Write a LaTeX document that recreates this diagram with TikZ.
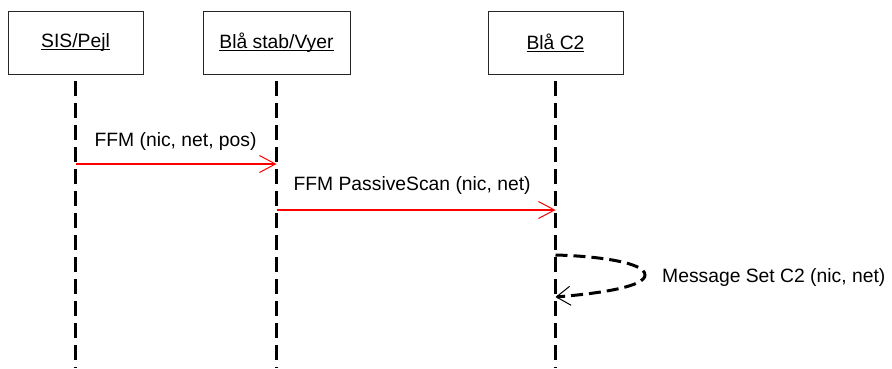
\documentclass[tikz,border=0pt]{standalone}
\usepackage{fontspec}
\setmainfont{Liberation Sans}
\usetikzlibrary{arrows.meta,positioning}
\newcommand{\actorname}[1]{\setbox0\hbox{#1}\rlap{\rule[-2.5pt]{\wd0}{1pt}}\box0}

\begin{document}
\begin{tikzpicture}[
  x=1pt, y=-1pt, font=\fontsize{19.3}{23}\selectfont,
  actor/.style={draw=black!85, line width=0.9pt, minimum height=63pt,
                inner sep=2pt},
  life/.style={line width=3pt, dash pattern=on 15pt off 7pt},
  msg/.style={draw=red, line width=2.2pt,
              -{Straight Barb[length=16pt, width=17pt, line width=1pt]}},
  selfmsg/.style={line width=3pt, dash pattern=on 12pt off 6pt,
              -{Straight Barb[length=14pt, width=19pt, line width=1pt]}},
  lbl/.style={anchor=base west, inner sep=0pt}
]
  \useasboundingbox (0,0) rectangle (892,368);
  % actors
  \node[actor, minimum width=135pt] (sis)  at (75.5,42.5)  {\actorname{SIS/Pejl}};
  \node[actor, minimum width=147pt] (stab) at (276.5,42.5) {\actorname{Blå stab/Vyer}};
  \node[actor, minimum width=135pt] (c2)   at (555.5,42.5) {\actorname{Blå C2}};
  % lifelines
  \coordinate (bottom) at (0,368);
  \draw[life] ([yshift=-7pt]sis.south)  -- (sis.south |- bottom);
  \draw[life] ([yshift=-7pt]stab.south) -- (stab.south |- bottom);
  \draw[life] ([yshift=-7pt]c2.south)   -- (c2.south |- bottom);
  % message rows
  \coordinate (row1) at (0,164);
  \coordinate (row2) at (0,210);
  \coordinate (row3a) at (0,255);
  \coordinate (row3b) at (0,297);
  \coordinate (loop) at (645,275);
  \draw[msg] (sis |- row1) -- (stab |- row1)
    node[lbl, pos=0, xshift=18pt, yshift=18pt] (m1) {FFM (nic, net, pos)};
  \draw[msg] (stab |- row2) -- (c2 |- row2)
    node[lbl, pos=0, xshift=16pt, yshift=20pt] (m2) {FFM PassiveScan (nic, net)};
  \draw[selfmsg] (c2 |- row3a) .. controls (595,256) and (645,262) .. (loop)
    .. controls (645,286) and (605,293) .. (c2 |- row3b);
  \node[lbl, xshift=17pt, yshift=-7pt] (m3) at (loop) {Message Set C2 (nic, net)};
\end{tikzpicture}
\end{document}
